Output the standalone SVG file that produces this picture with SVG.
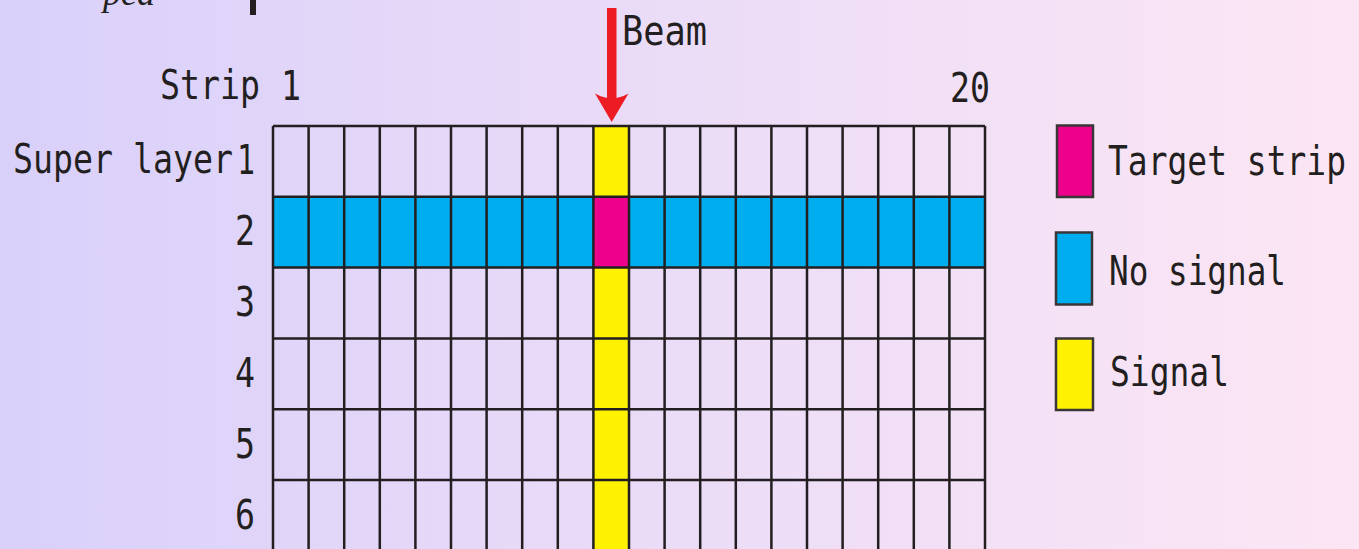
<svg xmlns="http://www.w3.org/2000/svg" width="1359" height="549" viewBox="0 0 1359 549">
  <defs>
    <linearGradient id="bg" x1="0" y1="0" x2="1" y2="0">
      <stop offset="0" stop-color="#d9d0fa"/>
      <stop offset="0.5" stop-color="#ebdcf7"/>
      <stop offset="1" stop-color="#fce6f4"/>
    </linearGradient>
    <style>
      .t { font-family: "DejaVu Sans Mono", "Liberation Mono", monospace; font-size: 40px; fill: #231f20; }
      .grid { stroke: #231f20; stroke-width: 2.5; fill: none; }
      .leg { stroke: #3a3536; stroke-width: 2.5; }
    </style>
  </defs>
  <rect x="0" y="0" width="1359" height="549" fill="url(#bg)"/>

  <g id="top-fragment">
    <text x="103" y="5" font-family="Liberation Serif, serif" font-style="italic" font-size="36" fill="#231f20">ped</text>
    <rect x="250" y="0" width="6" height="15" fill="#231f20"/>
  </g>

  <g id="axis-labels">
    <text class="t" x="160" y="99" textLength="100" lengthAdjust="spacingAndGlyphs">Strip</text>
    <text class="t" x="291" y="100" text-anchor="middle" textLength="20" lengthAdjust="spacingAndGlyphs">1</text>
    <text class="t" x="950" y="102" textLength="40" lengthAdjust="spacingAndGlyphs">20</text>
    <text class="t" x="13" y="173" textLength="220" lengthAdjust="spacingAndGlyphs">Super layer</text>
    <text class="t" x="246" y="174" text-anchor="middle" textLength="18" lengthAdjust="spacingAndGlyphs">1</text>
    <text class="t" x="245" y="245" text-anchor="middle" textLength="20" lengthAdjust="spacingAndGlyphs">2</text>
    <text class="t" x="245" y="316" text-anchor="middle" textLength="20" lengthAdjust="spacingAndGlyphs">3</text>
    <text class="t" x="245" y="387" text-anchor="middle" textLength="20" lengthAdjust="spacingAndGlyphs">4</text>
    <text class="t" x="245" y="458" text-anchor="middle" textLength="20" lengthAdjust="spacingAndGlyphs">5</text>
    <text class="t" x="245" y="529" text-anchor="middle" textLength="20" lengthAdjust="spacingAndGlyphs">6</text>
  </g>

  <g id="detector-grid">
    <rect x="273" y="196.8" width="712" height="70.8" fill="#00aeef"/>
    <rect x="593.4" y="126" width="35.6" height="430" fill="#fff200"/>
    <rect x="593.4" y="196.8" width="35.6" height="70.8" fill="#ec008c"/>
    <path class="grid" d="M273,126H985M273,196.8H985M273,267.6H985M273,338.4H985M273,409.2H985M273,480H985
      M273,126V552M308.6,126V552M344.2,126V552M379.8,126V552M415.4,126V552M451,126V552M486.6,126V552M522.2,126V552M557.8,126V552M593.4,126V552
      M629,126V552M664.6,126V552M700.2,126V552M735.8,126V552M771.4,126V552M807,126V552M842.6,126V552M878.2,126V552M913.8,126V552M949.4,126V552M985,126V552"/>
  </g>

  <g id="connectors">
    <g id="beam-arrow" fill="#ed1c24">
      <rect x="607" y="8" width="9.5" height="92"/>
      <path d="M611.7,122 L595,93.5 Q611.7,103 628.5,93.5 Z"/>
    </g>
  </g>
  <g id="beam-label">
    <text class="t" x="622" y="45" font-size="41" textLength="85" lengthAdjust="spacingAndGlyphs">Beam</text>
  </g>

  <g id="legend-target">
    <rect class="leg" x="1057" y="125.5" width="36" height="71.5" fill="#ec008c"/>
    <text class="t" x="1108" y="175" textLength="238" lengthAdjust="spacingAndGlyphs">Target strip</text>
  </g>
  <g id="legend-nosignal">
    <rect class="leg" x="1056" y="232.5" width="36" height="72" fill="#00aeef"/>
    <text class="t" x="1109" y="285" textLength="177" lengthAdjust="spacingAndGlyphs">No signal</text>
  </g>
  <g id="legend-signal">
    <rect class="leg" x="1056" y="338.5" width="37" height="71.5" fill="#fff200"/>
    <text class="t" x="1110" y="386" textLength="119" lengthAdjust="spacingAndGlyphs">Signal</text>
  </g>
</svg>
